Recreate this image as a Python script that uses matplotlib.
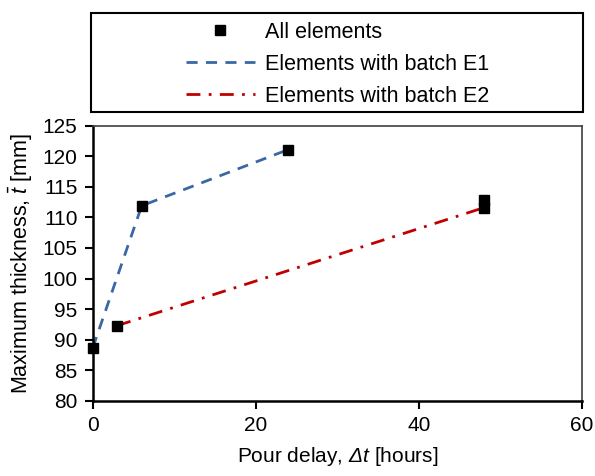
import matplotlib
matplotlib.use("Agg")
import matplotlib.pyplot as plt
from matplotlib.patches import Rectangle
from matplotlib.lines import Line2D

plt.rcParams['font.family'] = ['Liberation Sans', 'DejaVu Sans']
plt.rcParams['mathtext.fontset'] = 'custom'
plt.rcParams['mathtext.rm'] = 'Liberation Sans'
plt.rcParams['mathtext.it'] = 'Liberation Sans:italic'
plt.rcParams['mathtext.sf'] = 'Liberation Sans:italic'

# all elements
delay_all = [0, 3, 6, 24, 48, 48]
thick_all = [88.7, 92.3, 111.9, 121.1, 112.8, 111.6]

# batch E1
delay_e1 = [0, 6, 24]
thick_e1 = [88.7, 111.9, 121.1]

# batch E2
delay_e2 = [3, 48]
thick_e2 = [92.3, 111.6]

fig = plt.figure(figsize=(5.95, 4.76), dpi=100)
ax = fig.add_axes([0.156, 0.158, 0.822, 0.578])

ax.plot(delay_e1, thick_e1, color='#3a68a4', ls=(0, (4, 3)), lw=2)
ax.plot(delay_e2, thick_e2, color='#c00000', ls=(0, (5, 3, 1, 3)), lw=2)
ax.plot(delay_all, thick_all, 's', color='black', ms=7.3, ls='none', clip_on=False, zorder=5)

ax.set_xlim(0, 60)
ax.set_ylim(80, 125)
ax.set_xticks([0, 20, 40, 60])
ax.set_yticks(range(80, 126, 5))
ax.tick_params(labelsize=15, width=1.5, length=6, direction='out', pad=5)
for s in ['left', 'bottom']:
    ax.spines[s].set_linewidth(1.8)
for s in ['top', 'right']:
    ax.spines[s].set_linewidth(1.2)
    ax.spines[s].set_color('#404040')

ax.set_xlabel(r'Pour delay, $\mathsf{Δ}\mathit{t}$ [hours]', fontsize=15, labelpad=7)
ax.set_ylabel(r'Maximum thickness, $\bar{t}$ [mm]', fontsize=15.5, labelpad=5)

# legend frame above the axes
fig.patches.append(Rectangle((0.153, 0.765), 0.827, 0.208, transform=fig.transFigure,
                             fill=False, edgecolor='black', lw=1.5))
handles = [
    Line2D([], [], marker='s', color='black', ls='none', ms=7.3),
    Line2D([], [], color='#3a68a4', ls=(0, (4, 3)), lw=2),
    Line2D([], [], color='#c00000', ls=(0, (5, 3, 1, 3)), lw=2),
]
labels = ['All elements', 'Elements with batch E1', 'Elements with batch E2']
fig.legend(handles, labels, loc='center', bbox_to_anchor=(0.567, 0.865),
           frameon=False, fontsize=15.5, handlelength=3.2, labelspacing=0.5,
           handletextpad=0.45)

fig.savefig('out.png', dpi=100)
